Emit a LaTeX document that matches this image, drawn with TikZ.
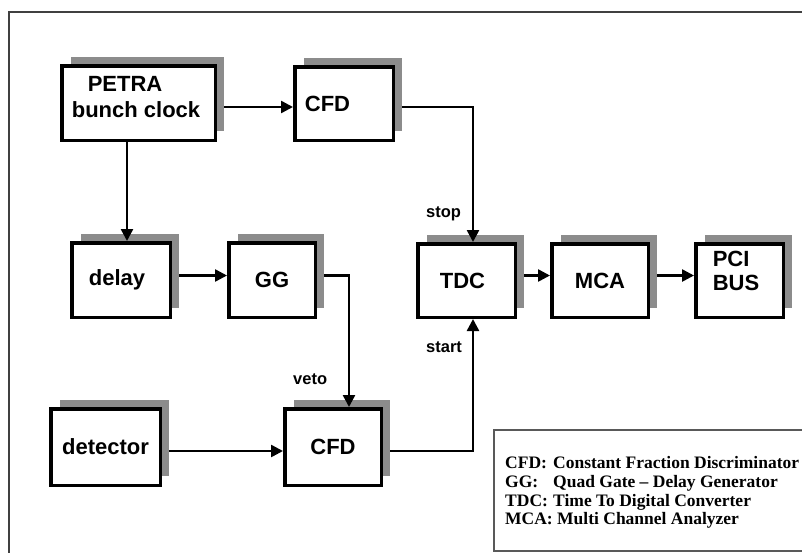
\documentclass[tikz,border=0pt]{standalone}
\usepackage{fontspec}
\setmainfont{Liberation Serif}
\setsansfont{Liberation Sans}
\usetikzlibrary{arrows.meta,shadows,calc}
\begin{document}
\begin{tikzpicture}[x=1pt,y=-1pt,
  blk/.style={draw=black, line width=3.5pt, fill=white, inner sep=0pt,
    font=\sffamily\bfseries\fontsize{22}{26}\selectfont, align=center,
    drop shadow={fill=black!45, opacity=1, shadow xshift=9pt, shadow yshift=9pt}},
  btxt/.style={font=\sffamily\bfseries\fontsize{22}{26}\selectfont, align=left, inner sep=0pt},
  arr/.style={line width=2.5pt, -{Triangle[length=12pt,width=12pt]}},
  lbl/.style={font=\sffamily\bfseries\fontsize{16.5}{19}\selectfont, inner sep=0pt, anchor=base west},
  legendtxt/.style={font=\bfseries\fontsize{17.5}{18.6}\selectfont, align=left, inner sep=0pt, anchor=north west},
]
\useasboundingbox (0,0) rectangle (802,552);
\fill[white] (0,0) rectangle (802,552);
% outer frame
\draw[line width=2pt, draw=black!75] (8.5,12) rectangle (830,580);

% blocks
\node[blk, minimum width=153.5pt, minimum height=74.5pt,
  label={[btxt, name=petratxt, xshift=-2.5pt, yshift=6pt]center:\hspace*{16pt}PETRA\\bunch clock}]
  (PETRA) at (138.5,103) {};
\node[blk, minimum width=98.5pt, minimum height=73.5pt,
  label={[btxt, name=cfdatxt, xshift=-16.5pt, yshift=-0.5pt]center:CFD}]
  (CFD1) at (344,103.5) {};
\node[blk, minimum width=98.5pt, minimum height=74.5pt] (delay) at (121,280) {\hspace*{-8pt}delay};
\node[blk, minimum width=86.5pt, minimum height=74.5pt] (GG) at (272,280) {GG};
\node[blk, minimum width=97.5pt, minimum height=73.5pt] (TDC) at (466.5,280.5) {\hspace*{-8pt}TDC};
\node[blk, minimum width=96.5pt, minimum height=73.5pt] (MCA) at (600,280.5) {MCA};
\node[blk, minimum width=87.5pt, minimum height=73.5pt,
  label={[btxt, name=pcitxt, xshift=-3.5pt, yshift=9.5pt, font=\sffamily\bfseries\fontsize{22}{24}\selectfont]center:PCI\\BUS}]
  (PCI) at (739.5,280.5) {};
\node[blk, minimum width=109.5pt, minimum height=76.5pt] (detector) at (105.5,447) {detector};
\node[blk, minimum width=96.5pt, minimum height=76.5pt] (CFD2) at (333,447) {CFD};

% rows and columns of the connectors
\coordinate (r1) at (0,107);
\coordinate (r2) at (0,275.5);
\coordinate (r3) at (0,451);
\coordinate (c1) at (127,0);
\coordinate (c2) at (349,0);
\coordinate (c3) at (473,0);

% connectors
\draw[arr] ($(PETRA.east |- r1)+(7,0)$) -- (CFD1.west |- r1);
\draw[arr] ($(CFD1.east |- r1)+(7,0)$) -| (TDC.north -| c3);
\draw[arr] (PETRA.south -| c1) -- (delay.north -| c1);
\draw[arr] ($(delay.east |- r2)+(7,0)$) -- (GG.west |- r2);
\draw[arr] ($(GG.east |- r2)+(7,0)$) -| (CFD2.north -| c2);
\draw[arr] ($(TDC.east |- r2)+(7,0)$) -- (MCA.west |- r2);
\draw[arr] ($(MCA.east |- r2)+(7,0)$) -- (PCI.west |- r2);
\draw[arr] ($(detector.east |- r3)+(7,0)$) -- (CFD2.west |- r3);
\draw[arr] ($(CFD2.east |- r3)+(7,0)$) -| (TDC.south -| c3);

% connector labels
\node[lbl] (stop) at (426,217) {stop};
\node[lbl] (start) at (426,352) {start};
\node[lbl] (veto) at (293,384) {veto};

% legend
\draw[line width=1.8pt, draw=black!65] (830,430) -- (494,430) -- (494,551) -- (830,551);
\node[legendtxt] (legend) at (505,456.5) {%
  \makebox[48pt][l]{CFD:}Constant Fraction Discriminator\\
  \makebox[48pt][l]{GG:}Quad Gate -- Delay Generator\\
  \makebox[48pt][l]{TDC:}Time To Digital Converter\\
  MCA: Multi Channel Analyzer};
\end{tikzpicture}
\end{document}
